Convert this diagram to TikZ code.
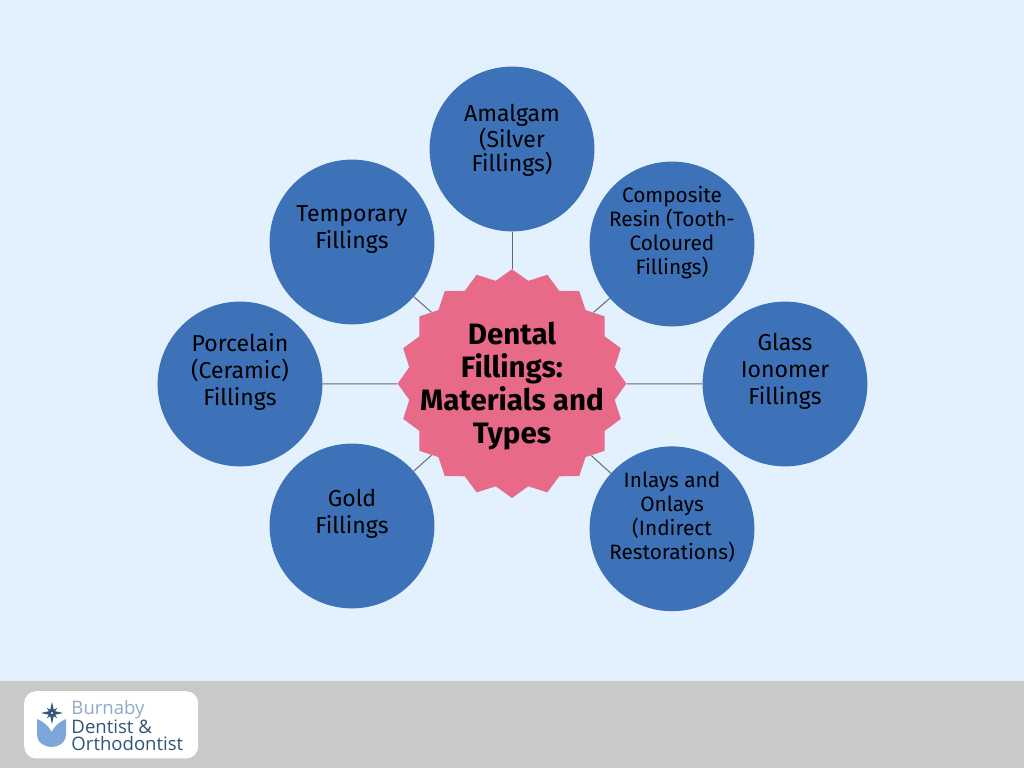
\documentclass[tikz,border=0pt]{standalone}
\usepackage{fontspec}
\setmainfont{Fira Sans}
\newfontfamily\logofont{Open Sans}
\usetikzlibrary{shapes.geometric}
\definecolor{pagebg}{HTML}{E3F1FE}
\definecolor{barbg}{HTML}{C8CAC9}
\definecolor{discblue}{HTML}{3D72B8}
\definecolor{starpink}{HTML}{E76A88}
\definecolor{linkgray}{HTML}{5F6B73}
\definecolor{logolight}{HTML}{8FAACB}
\definecolor{logodark}{HTML}{2F5578}
\definecolor{tulipblue}{HTML}{7FA6DA}
\tikzset{
  disc/.style={circle,fill=discblue,minimum size=4.12cm,inner sep=0pt},
  disclabel/.style={inner sep=0pt,align=center,text=black},
  disctext/.style={disclabel,yshift=0.31cm,font=\fontsize{16.4}{19.2}\selectfont},
  tighttext/.style={disclabel,yshift=0.22cm,font=\fontsize{16.4}{17.3}\selectfont},
  smalltext/.style={disclabel,yshift=0.28cm,font=\fontsize{14.8}{17.1}\selectfont},
  link/.style={draw=linkgray,line width=0.7pt},
  logotext/.style={inner sep=0pt,anchor=west,font=\logofont\fontsize{13.2}{13.2}\selectfont}
}
\begin{document}
\begin{tikzpicture}

\useasboundingbox (0,0) rectangle (25.6,19.2);
\fill [pagebg] (0,0) rectangle (25.6,19.2);
\fill [barbg] (0,0) rectangle (25.6,2.18);

\node (Center) at (12.8,9.61) [star,star points=20,star point ratio=1.1,fill=starpink,minimum size=5.72cm,inner sep=0pt] {};
\node (CenterText) at (Center) [inner sep=0pt,yshift=-0.07cm,align=center,font=\fontsize{21}{23.5}\selectfont\bfseries] {Dental\\Fillings:\\Materials and\\Types};

\node (Amalgam) at (12.8,15.475) [disc] {};
\node (Composite) at (16.8,13.1) [disc] {};
\node (Glass) at (19.625,9.6) [disc] {};
\node (Inlays) at (16.8,5.98) [disc] {};
\node (Gold) at (8.8,6.05) [disc] {};
\node (Porcelain) at (6,9.6) [disc] {};
\node (Temporary) at (8.8,13.15) [disc] {};

\node (AmalgamText) at (Amalgam) [tighttext] {Amalgam\\(Silver\\Fillings)};
\node (CompositeText) at (Composite) [smalltext] {Composite\\Resin (Tooth-\\Coloured\\Fillings)};
\node (GlassText) at (Glass) [disctext] {Glass\\Ionomer\\Fillings};
\node (InlaysText) at (Inlays) [smalltext] {Inlays and\\Onlays\\(Indirect\\Restorations)};
\node (GoldText) at (Gold) [disctext] {Gold\\Fillings};
\node (PorcelainText) at (Porcelain) [disctext] {Porcelain\\(Ceramic)\\Fillings};
\node (TemporaryText) at (Temporary) [disctext] {Temporary\\Fillings};

\draw [link] (Amalgam) -- (Center);
\draw [link] (Composite) -- (Center);
\draw [link] (Glass) -- (Center);
\draw [link] (Inlays) -- (Center);
\draw [link] (Gold) -- (Center);
\draw [link] (Porcelain) -- (Center);
\draw [link] (Temporary) -- (Center);

% logo
\node (Logo) at (2.78,1.08) [fill=white,rounded corners=0.3cm,minimum width=4.35cm,minimum height=1.68cm,inner sep=0pt] {};
\node (Burnaby) at (1.78,1.45) [logotext,text=logolight] {Burnaby};
\node (Dentist) at (1.78,1.03) [logotext,text=logodark] {Dentist \&};
\node (Orthodontist) at (1.78,0.62) [logotext,text=logodark] {Orthodontist};
\fill [tulipblue] (0.925,1.225) .. controls (1.1,1.15) and (1.22,1.05) .. (1.29,0.9) .. controls (1.36,1.05) and (1.48,1.15) .. (1.65,1.225) -- (1.65,0.85) .. controls (1.65,0.62) and (1.45,0.525) .. (1.29,0.525) .. controls (1.13,0.525) and (0.925,0.62) .. (0.925,0.85) -- cycle;
\fill [logodark] (1.3,1.65) -- (1.35,1.425) -- (1.575,1.375) -- (1.35,1.325) -- (1.3,1.1) -- (1.25,1.325) -- (1.025,1.375) -- (1.25,1.425) -- cycle;
\fill [logodark] (1.17,1.505) -- (1.3,1.43) -- (1.43,1.505) -- (1.355,1.375) -- (1.43,1.245) -- (1.3,1.32) -- (1.17,1.245) -- (1.245,1.375) -- cycle;
\fill [white] (1.3,1.375) circle (0.03);

\end{tikzpicture}
\end{document}
